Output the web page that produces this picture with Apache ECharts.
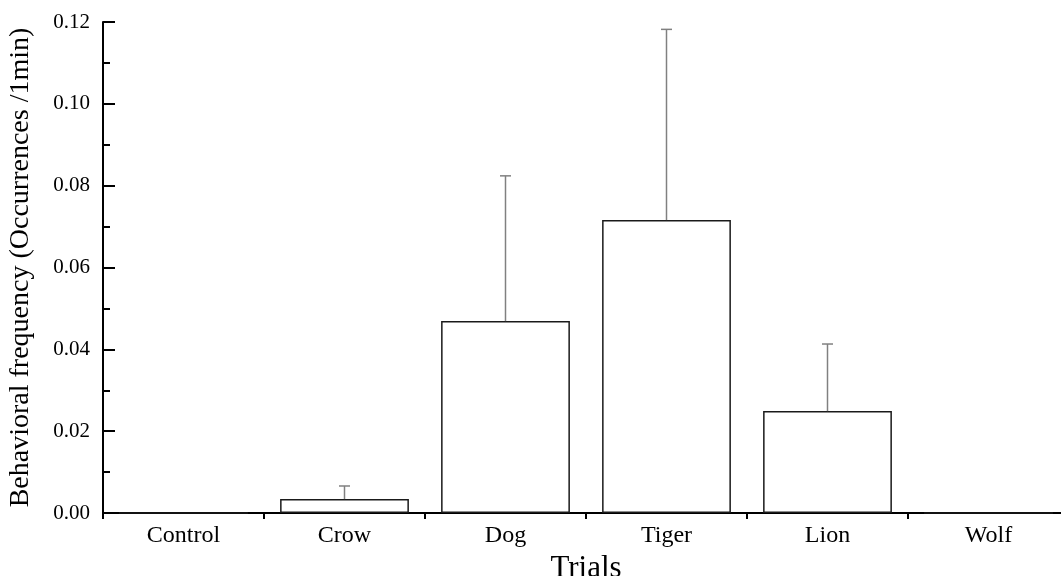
<!DOCTYPE html>
<html><head><meta charset="utf-8">
<script src="https://cdn.jsdelivr.net/npm/echarts@6/dist/echarts.min.js"></script>
<style>html,body{margin:0;padding:0;background:#fff}#c{width:1061px;height:576px}</style>
</head><body><div id="c"></div>
<script>
const categories = ['Control', 'Crow', 'Dog', 'Tiger', 'Lion', 'Wolf'];
const means = [0, 0.0034, 0.0469, 0.0716, 0.0249, 0];
const errTops = [null, 0.0066, 0.0824, 0.1182, 0.0413, null];
const yTicks = [0, 0.02, 0.04, 0.06, 0.08, 0.10, 0.12];

const FONT = '"Liberation Serif", "Times New Roman", serif';
const chart = echarts.init(document.getElementById('c'));
const errData = categories.map((c, i) => [i, means[i], errTops[i]]).filter(d => d[2] != null);

chart.setOption({
  animation: false,
  grid: { left: 103, right: -8, top: 22, bottom: 63, containLabel: false, outerBoundsMode: 'none' },
  xAxis: {
    type: 'category', data: categories,
    name: 'Trials', nameLocation: 'middle', nameGap: 36,
    nameTextStyle: { fontFamily: FONT, fontSize: 31, color: '#000' },
    axisLine: { lineStyle: { color: '#000', width: 2 } },
    axisTick: { show: true, inside: false, length: 6, lineStyle: { color: '#000', width: 2 } },
    axisLabel: { fontFamily: FONT, fontSize: 24, color: '#000', margin: 11 }
  },
  yAxis: {
    type: 'value', min: 0, max: 0.12, interval: 0.02,
    name: 'Behavioral frequency (Occurrences /1min)', nameLocation: 'middle', nameGap: 68,
    nameTextStyle: { fontFamily: FONT, fontSize: 28, color: '#000' },
    axisLine: { show: true, lineStyle: { color: '#000', width: 2 } },
    axisTick: { show: true, inside: true, length: 12, lineStyle: { color: '#000', width: 2 } },
    minorTick: { show: true, splitNumber: 2, length: 7, lineStyle: { color: '#000', width: 2 } },
    splitLine: { show: false },
    axisLabel: {
      fontFamily: FONT, fontSize: 21, color: '#000', margin: 13,
      formatter: v => { const t = yTicks.find(x => Math.abs(x - v) < 1e-9); return t != null ? t.toFixed(2) : ''; }
    }
  },
  series: [
    {
      type: 'bar', data: means, barCategoryGap: '20%',
      itemStyle: { color: '#fff', borderColor: '#1a1a1a', borderWidth: 1.5 },
      z: 2
    },
    {
      type: 'custom', data: errData, z: 3,
      renderItem: (params, api) => {
        const x = api.value(0);
        const lo = api.coord([x, api.value(1)]);
        const hi = api.coord([x, api.value(2)]);
        const hw = 5.5;
        const st = { stroke: '#808080', lineWidth: 1.5 };
        return { type: 'group', children: [
          { type: 'line', shape: { x1: lo[0], y1: lo[1], x2: hi[0], y2: hi[1] }, style: st },
          { type: 'line', shape: { x1: hi[0] - hw, y1: hi[1], x2: hi[0] + hw, y2: hi[1] }, style: st }
        ]};
      }
    }
  ]
});
</script></body></html>
